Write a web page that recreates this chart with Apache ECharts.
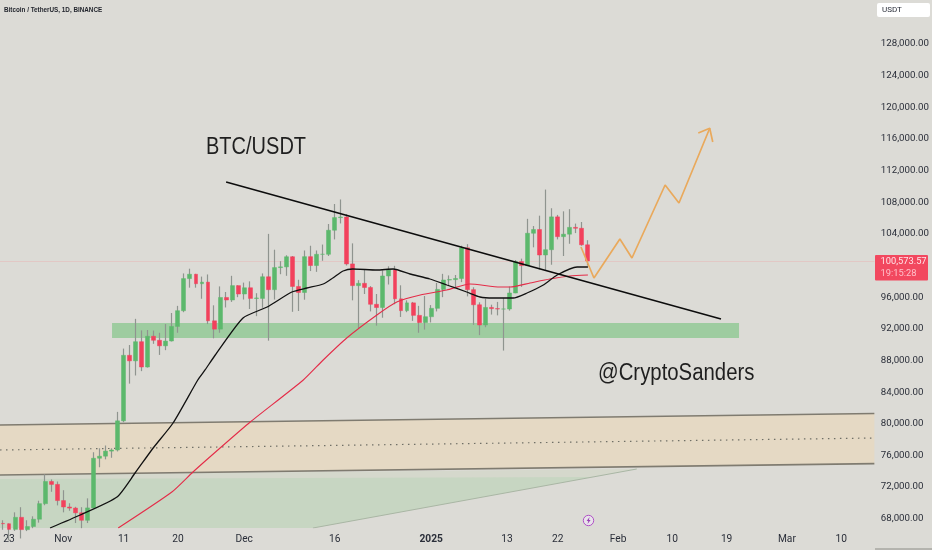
<!DOCTYPE html>
<html>
<head>
<meta charset="utf-8">
<style>html,body{margin:0;padding:0;background:#dcdbd6}#c{width:932px;height:550px}</style>
<script src="https://cdn.jsdelivr.net/npm/echarts@6/dist/echarts.min.js"></script>
</head>
<body>
<div id="c"></div>
<script>
// Daily candles, first one is 2024-10-22
const firstDay = '2024-10-22';
const opens  = [67400,67360,66650,68170,66620,67010,67930,69900,72700,72330,70290,69480,69340,68740,67800,69360,75640,75900,76540,76680,80370,88650,87950,90370,87170,91060,90550,89850,90460,92300,94290,98350,98900,97700,97900,93010,91960,95960,95640,97460,96400,97190,95840,95840,98580,96950,99740,99830,101110,97350,96590,101120,100000,101420,101420,104460,106060,106130,100200,97460,97750,97220,95100,94690,98680,99430,95790,94300,95280,93700,92790,93530,94590,96980,98170,98220,98360,102240,96950,95040,92480,94700,94550,94500,94500,96530,100500,99990,104080,104550,101330,102000,106150,103650,103960,104820,104710,102620];
const closes = [67360,66650,68170,66620,67010,67930,69900,72700,72330,70290,69480,69340,68740,67800,69360,75640,75900,76540,76680,80370,88650,87950,90370,87170,91060,90550,89850,90450,92300,94290,98350,98900,97700,97900,93010,91960,95960,95640,97460,96400,97190,95840,95900,98580,96950,99740,99830,101110,97350,96590,101120,100000,101420,101420,104460,106060,106130,100200,97460,97750,97220,95100,94690,98680,99430,95790,94300,95280,93700,92790,93530,94590,96980,98170,98220,98360,102240,96950,95040,92480,94700,94550,94500,94500,96530,100500,99990,104080,104550,101330,102000,106150,103650,103960,104820,104710,102620,100574];
const lows   = [66600,65260,66450,65500,66430,66800,67500,69700,71400,69680,68800,69000,67450,66800,67450,69300,74500,75500,75700,76500,80200,85070,86100,86650,87100,90100,88700,89300,90400,91500,94100,97200,97200,95800,92600,90800,91500,94700,95400,96000,95700,94500,93600,94660,90500,95700,98900,98700,94150,94250,95680,99300,99200,100600,101200,103300,105320,100000,95600,92100,96400,94200,92400,93400,97600,95100,93500,94100,93000,91500,91900,92800,94200,96000,97500,97250,97900,96100,92500,91200,92200,93800,93700,89250,94300,96500,97300,99950,102300,99500,99430,100100,103300,101200,102750,104100,102500,100000];
const highs  = [67800,67400,68800,69450,67800,68300,70270,73620,72960,72700,71600,69950,69500,69450,70570,76400,76900,77250,76900,81500,89500,89950,93260,91800,91850,91780,91500,92600,94000,94900,99000,99600,98950,98600,98870,94970,97360,96650,98700,97500,97840,98000,96500,99000,104000,102000,100550,101300,101200,98200,101900,102500,101900,102650,105250,107780,108350,106500,102800,98150,99500,97400,96400,99400,99900,99960,97500,95600,95400,94900,96150,95000,97800,98950,98750,98800,102500,102700,97250,95350,95800,95050,95400,95900,97350,100700,100870,105900,104990,106300,109600,107240,106400,106850,107120,105300,105500,103200];
const totalDays = 145;

const tickLabels = {'2024-10-23':'23','2024-11-01':'Nov','2024-11-11':'11','2024-11-20':'20','2024-12-01':'Dec','2024-12-16':'16','2025-01-01':'2025','2025-01-13':'13','2025-01-22':'22','2025-02-01':'Feb','2025-02-10':'10','2025-02-19':'19','2025-03-01':'Mar','2025-03-10':'10'};
const priceTicks = [128000,124000,120000,116000,112000,108000,104000,96000,92000,88000,84000,80000,76000,72000,68000];
const lastPrice = 100573.57;

// Moving averages: [day index, price]
const maBlack = [[7.8,66822],[12.8,68466],[18.9,70741],[21.9,73774],[24.9,76934],[28.2,80094],[32.3,85530],[33.5,86794],[35.2,88690],[39.8,93366],[43.8,94757],[47.9,96653],[50.4,97158],[53.1,97664],[54.7,98422],[56.4,99307],[58,99560],[62,99434],[64.7,99560],[67.5,98928],[70.8,98296],[73.6,97538],[76.9,96653],[79.1,96021],[81.3,95894],[84.6,95894],[86.9,96526],[89.6,97538],[91.9,98802],[95.2,99813],[97,99813]];
const maRed = [[19.1,66822],[28,71373],[31.5,73901],[36,76934],[41,80221],[49.8,85530],[53.1,88058],[57,90838],[62,93746],[65.3,95389],[69.2,96274],[73.6,96906],[77.4,97664],[82.4,97285],[84.1,97285],[87.4,97790],[90.7,98296],[94,98675],[97,98802]];

// Drawings
const trendLine = [[37,110557],[119.07,93240]];
const forecastPath = [[95.85,102341],[98,98422],[102.3,103352],[104.3,100950],[109.8,110178],[112.1,107902],[117.2,117345]];
const arrowHead = [[115.3,116750],[117.2,117345],[117.7,115613]];
const supportBand = [[18.08,92734],[122.06,92734],[122.06,90838],[18.08,90838]];
const channelUpper = [[-0.5,79842],[144.5,81295]];
const channelMid = [[-0.5,76682],[144.5,78198]];
const channelLower = [[-0.5,73522],[144.5,74950]];
const channelFill = [[-0.5,79842],[144.5,81295],[144.5,74950],[-0.5,73522]];
const wedgeLight = [[-0.5,73522],[105.1,74280],[51.4,66822],[-0.5,66822]];
const wedgeGreen = [[-0.5,73016],[97.7,73269],[51.4,66822],[-0.5,66822]];
const wedgeEdge = [[51.4,66822],[105.1,74280]];

const fmt = v => v.toLocaleString('en-US',{minimumFractionDigits:2,maximumFractionDigits:2});
const day0 = Date.parse(firstDay+'T00:00:00Z');
const categories = Array.from({length:totalDays},(_,i)=>new Date(day0+i*864e5).toISOString().slice(0,10));

const GREEN='#5cb86c', RED='#f2415c', WICK='#8f948f';

function polygonSeries(points,fill,z){
  return {type:'custom',xAxisIndex:1,yAxisIndex:0,coordinateSystem:'cartesian2d',clip:true,z,silent:true,
    data:[points[0]],
    renderItem:(p,api)=>({type:'polygon',shape:{points:points.map(q=>api.coord(q))},style:{fill}})};
}
function lineSeries(data,color,width,z,extra){
  return Object.assign({type:'line',xAxisIndex:1,yAxisIndex:0,data,symbol:'none',z,silent:true,clip:true,
    lineStyle:{color,width}},extra||{});
}

const chart = echarts.init(document.getElementById('c'),null,{renderer:'canvas'});
chart.setOption({
  animation:false,
  backgroundColor:'#dcdbd6',
  grid:{left:0,top:0,width:874.35,height:528,containLabel:false,outerBoundsMode:'none'},
  xAxis:[
    {type:'category',data:categories,boundaryGap:true,axisLine:{show:false},axisTick:{show:false},splitLine:{show:false},
      axisLabel:{interval:(i,v)=>v in tickLabels,hideOverlap:false,margin:6,fontFamily:'Roboto',fontSize:10.2,color:'#2a2e39',
        formatter:v=>v==='2025-01-01'?'{b|2025}':v==='2025-01-13'?'{s|13}':(tickLabels[v]||''),
        rich:{b:{fontFamily:'Roboto',fontSize:10.2,fontWeight:'bold',color:'#2a2e39'},
              s:{fontFamily:'Roboto',fontSize:10.2,color:'#2a2e39',padding:[0,0,0,7]}}}},
    {type:'value',show:false,min:-0.5,max:144.5,splitLine:{show:false}}
  ],
  yAxis:[{type:'value',position:'right',min:66822,max:133562,scale:true,axisLine:{show:false},axisTick:{show:false},splitLine:{show:false},
    axisLabel:{customValues:priceTicks,margin:6.5,padding:[3,0,0,0],fontFamily:'Roboto',fontSize:9.7,color:'#2a2e39',formatter:fmt}}],
  series:[
    polygonSeries(wedgeLight,'#d5d8cc',1),
    polygonSeries(wedgeGreen,'#c7d6c2',2),
    lineSeries(wedgeEdge,'#a9b6a4',1,3),
    polygonSeries(channelFill,'#e5d9c4',4),
    lineSeries(channelUpper,'#7f7b70',1.7,5),
    lineSeries(channelLower,'#7f7b70',1.7,5),
    lineSeries(channelMid,'#6f6f66',1.2,5,{lineStyle:{color:'#6f6f66',width:1.2,type:[1.5,4.5]}}),
    polygonSeries(supportBand,'#9ecca0',6),
    {type:'candlestick',xAxisIndex:0,yAxisIndex:0,barWidth:1,z:7,silent:true,
      data:opens.map((o,i)=>[o,closes[i],lows[i],highs[i]]),
      itemStyle:{color:WICK,color0:WICK,borderColor:WICK,borderColor0:WICK,borderWidth:1.2},
      markLine:{silent:true,symbol:'none',label:{show:false},lineStyle:{color:'#e8b8b8',width:1,type:'solid',opacity:.55},data:[{yAxis:lastPrice}]}},
    {type:'candlestick',xAxisIndex:0,yAxisIndex:0,barWidth:4.4,z:8,silent:true,
      data:opens.map((o,i)=>[o,closes[i],Math.min(o,closes[i]),Math.max(o,closes[i])]),
      itemStyle:{color:GREEN,color0:RED,borderColor:GREEN,borderColor0:RED,borderWidth:.5}},
    lineSeries(maRed,'#e42c48',1.1,9,{smooth:.2}),
    lineSeries(maBlack,'#111111',1.3,10,{smooth:.2}),
    lineSeries(trendLine,'#0c0c0c',1.5,11),
    lineSeries(forecastPath,'#e9a95c',1.7,12),
    lineSeries(arrowHead,'#e9a95c',1.7,12)
  ],
  graphic:[
    {type:'text',x:4,y:6,z:50,scaleX:.79,style:{text:'Bitcoin / TetherUS, 1D, BINANCE',font:'bold 8px "Liberation Sans"',fill:'#23262e'}},
    {type:'text',x:206,y:136,z:50,scaleX:.87,style:{text:'BTC/USDT',font:'23px "Liberation Sans"',fill:'#1f1f1f'}},
    {type:'text',x:598,y:362,z:50,scaleX:.885,style:{text:'@CryptoSanders',font:'23px "Liberation Sans"',fill:'#1f1f1f'}},
    {type:'rect',z:50,shape:{x:877,y:3,width:53,height:14,r:2},style:{fill:'#ffffff'}},
    {type:'text',x:882,y:6,z:51,style:{text:'USDT',font:'8px Roboto',fill:'#2a2e39'}},
    {type:'rect',z:50,shape:{x:875,y:255,width:53,height:25.5,r:1},style:{fill:'#f2485f'}},
    {type:'text',x:880.5,y:257,z:51,scaleX:.96,style:{text:fmt(lastPrice),font:'9.7px Roboto',fill:'#ffe6ea'}},
    {type:'text',x:880.5,y:268.5,z:51,scaleX:.96,style:{text:'19:15:28',font:'9.7px Roboto',fill:'#ffc0ca'}},
    {type:'circle',z:50,shape:{cx:588.5,cy:520.5,r:5.2},style:{fill:'#e8e3ea',stroke:'#b04fc7',lineWidth:1}},
    {type:'polygon',z:51,shape:{points:[[589.6,517],[586.6,521],[588.3,521],[587.5,524],[590.6,520],[588.9,520]]},style:{fill:'#9a3fb5'}},
    {type:'line',z:50,shape:{x1:875,y1:549,x2:932,y2:549},style:{stroke:'#8c8c86',lineWidth:1}}
  ]
});
</script>
</body>
</html>
